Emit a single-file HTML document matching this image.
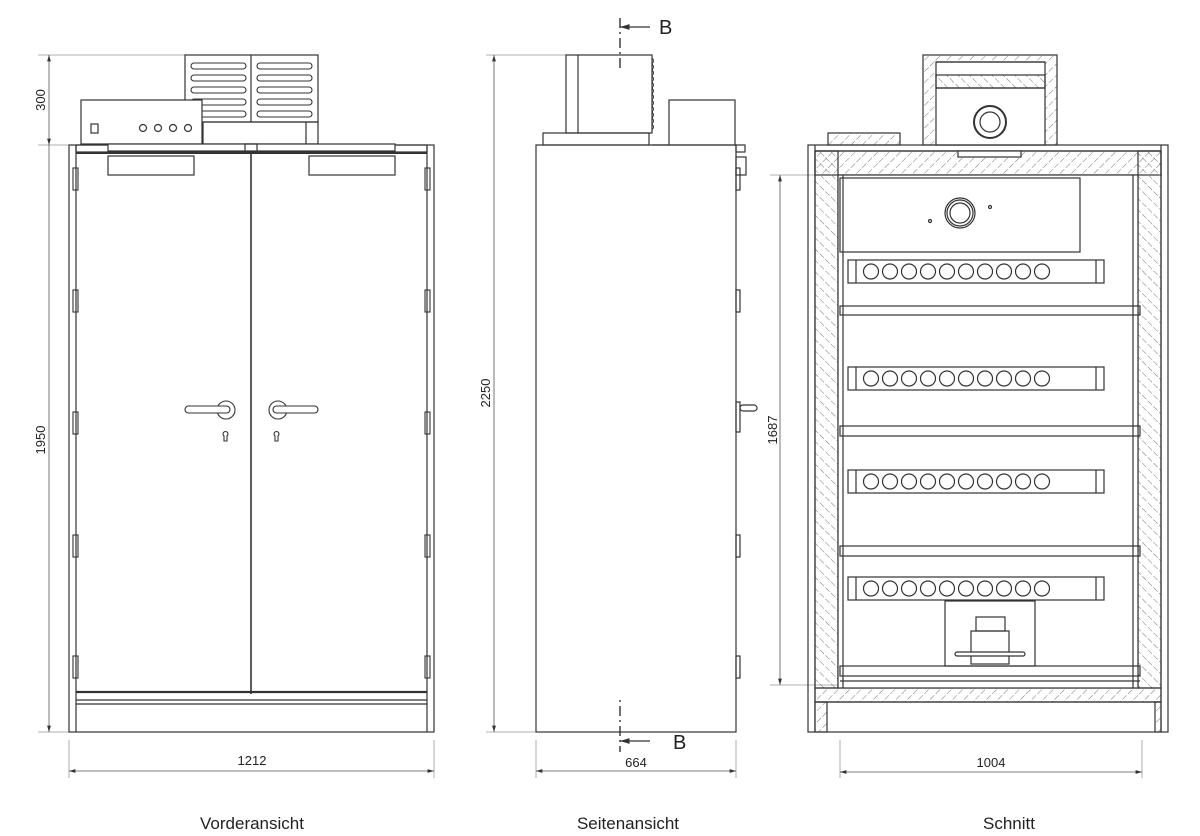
<!DOCTYPE html>
<html><head><meta charset="utf-8"><style>
html,body{margin:0;padding:0;background:#fff;}
svg{display:block;}
text{font-family:"Liberation Sans",sans-serif;fill:#222;}
</style></head><body>
<svg width="1200" height="836" viewBox="0 0 1200 836" xmlns="http://www.w3.org/2000/svg">
<defs>
<pattern id="h" width="8" height="8" patternUnits="userSpaceOnUse" patternTransform="rotate(45)">
<line x1="0" y1="0" x2="0" y2="8" stroke="#777" stroke-width="1" stroke-dasharray="5 2"/>
</pattern>
<pattern id="h2" width="8" height="8" patternUnits="userSpaceOnUse" patternTransform="rotate(-45)">
<line x1="0" y1="0" x2="0" y2="8" stroke="#777" stroke-width="1" stroke-dasharray="5 2"/>
</pattern>
<marker id="a" viewBox="0 0 10 6" refX="10" refY="3" markerWidth="8" markerHeight="5" orient="auto-start-reverse"><path d="M0,0L10,3L0,6z" fill="#333"/></marker>
</defs>
<g fill="none" stroke="#333" stroke-width="1.2">
<g stroke="#999" stroke-width="0.8">
<line x1="38" y1="55" x2="315" y2="55"/><line x1="38" y1="145" x2="70" y2="145"/><line x1="38" y1="732" x2="70" y2="732"/>
<line x1="69" y1="740" x2="69" y2="778"/><line x1="434" y1="740" x2="434" y2="778"/>
</g>
<line x1="49" y1="55" x2="49" y2="145" stroke="#555" stroke-width="0.8" marker-start="url(#a)" marker-end="url(#a)"/>
<line x1="49" y1="145" x2="49" y2="732" stroke="#555" stroke-width="0.8" marker-end="url(#a)"/>
<line x1="69" y1="771" x2="434" y2="771" stroke="#555" stroke-width="0.8" marker-start="url(#a)" marker-end="url(#a)"/>
<rect x="185" y="55" width="133" height="67"/>
<line x1="251" y1="55" x2="251" y2="122"/>
<g stroke-width="1.1">
<rect x="191" y="63" width="55" height="6" rx="3"/><rect x="191" y="75" width="55" height="6" rx="3"/><rect x="191" y="87" width="55" height="6" rx="3"/><rect x="191" y="99" width="55" height="6" rx="3"/><rect x="191" y="111" width="55" height="6" rx="3"/>
<rect x="257" y="63" width="55" height="6" rx="3"/><rect x="257" y="75" width="55" height="6" rx="3"/><rect x="257" y="87" width="55" height="6" rx="3"/><rect x="257" y="99" width="55" height="6" rx="3"/><rect x="257" y="111" width="55" height="6" rx="3"/>
</g>
<rect x="203" y="122" width="115" height="22"/><line x1="306" y1="122" x2="306" y2="144"/>
<rect x="81" y="100" width="121" height="44" fill="#fff"/>
<rect x="91" y="124" width="7" height="9"/>
<circle cx="143" cy="128" r="3.5"/><circle cx="158" cy="128" r="3.5"/><circle cx="173" cy="128" r="3.5"/><circle cx="188" cy="128" r="3.5"/>
<rect x="69" y="145" width="365" height="587"/>
<line x1="76" y1="145" x2="76" y2="732"/><line x1="427" y1="145" x2="427" y2="732"/>
<rect x="76" y="145" width="351" height="7"/>
<rect x="108" y="144" width="287" height="7" fill="#fff"/>
<line x1="76" y1="153" x2="427" y2="153" stroke-width="2"/>
<rect x="108" y="156" width="86" height="19"/><rect x="309" y="156" width="86" height="19"/>
<line x1="251" y1="152" x2="251" y2="694" stroke-width="1.6"/>
<rect x="245" y="144" width="12" height="8"/>
<line x1="76" y1="692" x2="427" y2="692" stroke-width="2.2"/>
<line x1="76" y1="700" x2="427" y2="700"/><line x1="76" y1="704" x2="427" y2="704"/>
<g stroke-width="1.1">
<rect x="73" y="168" width="5" height="22"/><rect x="73" y="290" width="5" height="22"/><rect x="73" y="412" width="5" height="22"/><rect x="73" y="535" width="5" height="22"/><rect x="73" y="656" width="5" height="22"/>
<rect x="425" y="168" width="5" height="22"/><rect x="425" y="290" width="5" height="22"/><rect x="425" y="412" width="5" height="22"/><rect x="425" y="535" width="5" height="22"/><rect x="425" y="656" width="5" height="22"/>
</g>
<g stroke-width="1.1">
<circle cx="226" cy="410" r="9"/><rect x="185" y="406" width="45" height="7" rx="3.5" fill="#fff"/>
<circle cx="278" cy="410" r="9"/><rect x="273" y="406" width="45" height="7" rx="3.5" fill="#fff"/>
<path d="M224,436 a2.5,2.5 0 1 1 3,0 l0,5 h-3z"/><path d="M275,436 a2.5,2.5 0 1 1 3,0 l0,5 h-3z"/>
</g>

<g stroke="#999" stroke-width="0.8">
<line x1="486" y1="55" x2="566" y2="55"/><line x1="486" y1="732" x2="536" y2="732"/>
<line x1="536" y1="740" x2="536" y2="778"/><line x1="736" y1="740" x2="736" y2="778"/>
</g>
<line x1="494" y1="55" x2="494" y2="732" stroke="#555" stroke-width="0.8" marker-start="url(#a)" marker-end="url(#a)"/>
<line x1="536" y1="771" x2="736" y2="771" stroke="#555" stroke-width="0.8" marker-start="url(#a)" marker-end="url(#a)"/>
<rect x="566" y="55" width="86" height="78"/><line x1="578" y1="55" x2="578" y2="133"/>
<path d="M652,58 q3,3 0,6 q3,3 0,6 q3,3 0,6 q3,3 0,6 q3,3 0,6 q3,3 0,6 q3,3 0,6 q3,3 0,6 q3,3 0,6 q3,3 0,6 q3,3 0,6 q3,3 0,6" stroke-width="0.9"/>
<rect x="543" y="133" width="106" height="12"/>
<rect x="669" y="100" width="66" height="45"/>
<line x1="652" y1="145" x2="669" y2="145"/>
<rect x="536" y="145" width="200" height="587"/>
<rect x="736" y="145" width="9" height="7"/><rect x="736" y="157" width="10" height="18"/><rect x="736" y="168" width="4" height="22"/>
<rect x="736" y="290" width="4" height="22"/><rect x="736" y="535" width="4" height="22"/><rect x="736" y="656" width="4" height="22"/>
<rect x="736" y="402" width="4" height="30"/><rect x="740" y="405" width="17" height="6" rx="3"/>
<line x1="620" y1="18" x2="620" y2="72" stroke-width="1.4" stroke-dasharray="10 4 2 4"/>
<line x1="650" y1="27" x2="620" y2="27" stroke-width="1.2" marker-end="url(#a)"/>
<line x1="620" y1="700" x2="620" y2="752" stroke-width="1.4" stroke-dasharray="2 4 10 4"/>
<line x1="650" y1="741" x2="620" y2="741" stroke-width="1.2" marker-end="url(#a)"/>

<g stroke="#999" stroke-width="0.8">
<line x1="770" y1="175" x2="838" y2="175"/><line x1="770" y1="685" x2="838" y2="685"/>
<line x1="840" y1="740" x2="840" y2="778"/><line x1="1142" y1="740" x2="1142" y2="778"/>
</g>
<line x1="780" y1="175" x2="780" y2="685" stroke="#555" stroke-width="0.8" marker-start="url(#a)" marker-end="url(#a)"/>
<line x1="840" y1="772" x2="1142" y2="772" stroke="#555" stroke-width="0.8" marker-start="url(#a)" marker-end="url(#a)"/>
<rect x="923" y="55" width="134" height="90" fill="url(#h)"/>
<rect x="936" y="62" width="109" height="83" fill="#fff"/>
<line x1="936" y1="62" x2="1045" y2="62"/>
<rect x="936" y="75" width="109" height="13" fill="url(#h2)"/>
<line x1="936" y1="88" x2="1045" y2="88"/>
<circle cx="990" cy="122" r="16" stroke-width="2"/><circle cx="990" cy="122" r="10"/>
<rect x="828" y="133" width="72" height="12" fill="url(#h)"/>
<rect x="808" y="145" width="360" height="587"/>
<rect x="815" y="151" width="346" height="24" fill="url(#h)"/>
<rect x="815" y="151" width="23" height="537" fill="url(#h2)"/>
<rect x="1138" y="151" width="23" height="537" fill="url(#h2)"/>
<line x1="815" y1="145" x2="815" y2="732"/><line x1="1161" y1="145" x2="1161" y2="732"/>
<line x1="815" y1="151" x2="1161" y2="151"/>
<rect x="958" y="151" width="63" height="6" fill="#fff"/>
<rect x="815" y="688" width="346" height="14" fill="url(#h)"/>
<line x1="815" y1="702" x2="1161" y2="702"/>
<rect x="815" y="702" width="12" height="30" fill="url(#h)"/><rect x="1155" y="702" width="6" height="30" fill="url(#h)"/>
<rect x="838" y="175" width="300" height="513" fill="#fff"/>
<line x1="843" y1="175" x2="843" y2="688"/><line x1="1133" y1="175" x2="1133" y2="688"/>
<rect x="840" y="178" width="240" height="74"/>
<circle cx="960" cy="213" r="15"/><circle cx="960" cy="213" r="13"/><circle cx="960" cy="213" r="10"/>
<circle cx="930" cy="221" r="1.5"/><circle cx="990" cy="207" r="1.5"/>
<rect x="840" y="306" width="300" height="9"/><rect x="840" y="426" width="300" height="10"/>
<rect x="840" y="546" width="300" height="10"/><rect x="840" y="666" width="300" height="10"/>
<line x1="840" y1="681" x2="1140" y2="681"/>
<g id="s">
<rect x="848" y="260" width="256" height="23"/><line x1="856" y1="260" x2="856" y2="283"/><line x1="1096" y1="260" x2="1096" y2="283"/>
<circle cx="871" cy="271.5" r="7.5"/><circle cx="890" cy="271.5" r="7.5"/><circle cx="909" cy="271.5" r="7.5"/><circle cx="928" cy="271.5" r="7.5"/><circle cx="947" cy="271.5" r="7.5"/><circle cx="966" cy="271.5" r="7.5"/><circle cx="985" cy="271.5" r="7.5"/><circle cx="1004" cy="271.5" r="7.5"/><circle cx="1023" cy="271.5" r="7.5"/><circle cx="1042" cy="271.5" r="7.5"/>
</g>
<use href="#s" y="107"/><use href="#s" y="210"/><use href="#s" y="317"/>
<rect x="945" y="601" width="90" height="65"/>
<rect x="976" y="617" width="29" height="14"/><rect x="971" y="631" width="38" height="33"/>
<rect x="955" y="652" width="70" height="4" rx="2" fill="#fff"/>
</g>
<text x="45" y="100" font-size="13" transform="rotate(-90 45 100)" text-anchor="middle">300</text>
<text x="45" y="440" font-size="13" transform="rotate(-90 45 440)" text-anchor="middle">1950</text>
<text x="490" y="393" font-size="13" transform="rotate(-90 490 393)" text-anchor="middle">2250</text>
<text x="777" y="430" font-size="13" transform="rotate(-90 777 430)" text-anchor="middle">1687</text>
<text x="252" y="765" font-size="13" text-anchor="middle">1212</text>
<text x="636" y="767" font-size="13" text-anchor="middle">664</text>
<text x="991" y="767" font-size="13" text-anchor="middle">1004</text>
<text x="659" y="34" font-size="20">B</text>
<text x="673" y="749" font-size="20">B</text>
<text x="252" y="829" font-size="17" text-anchor="middle">Vorderansicht</text>
<text x="628" y="829" font-size="17" text-anchor="middle">Seitenansicht</text>
<text x="1009" y="829" font-size="17" text-anchor="middle">Schnitt</text>
</svg>
</body></html>
